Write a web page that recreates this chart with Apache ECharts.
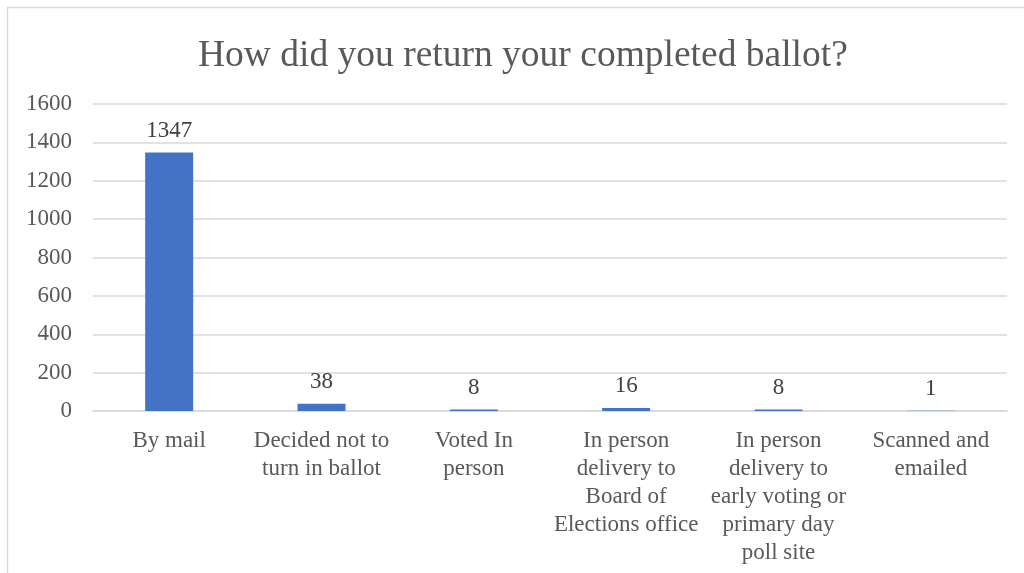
<!DOCTYPE html>
<html>
<head>
<meta charset="utf-8">
<script src="https://cdn.jsdelivr.net/npm/echarts@6/dist/echarts.min.js"></script>
<style>html,body{margin:0;padding:0;background:#fff;}#c{width:1024px;height:573px;}</style>
</head>
<body>
<div id="c"></div>
<script>
const titleText = 'How did you return your completed ballot?';
const categories = [
  'By mail',
  'Decided not to\nturn in ballot',
  'Voted In\nperson',
  'In person\ndelivery to\nBoard of\nElections office',
  'In person\ndelivery to\nearly voting or\nprimary day\npoll site',
  'Scanned and\nemailed'
];
const values = [1347, 38, 8, 16, 8, 1];
const yTicks = [0, 200, 400, 600, 800, 1000, 1200, 1400, 1600];

const font = '"Liberation Serif", "Times New Roman", serif';
const textColor = '#595959';
const chart = echarts.init(document.getElementById('c'));
chart.setOption({
  animation: false,
  backgroundColor: '#fff',
  title: {
    text: titleText,
    left: 193,
    top: 32,
    textStyle: { fontFamily: font, fontSize: 37.5, fontWeight: 'normal', color: textColor }
  },
  graphic: [{
    type: 'rect',
    shape: { x: 7.5, y: 7.5, width: 1100, height: 700 },
    style: { fill: 'none', stroke: '#D9D9D9', lineWidth: 1.5 },
    silent: true
  }],
  grid: { left: 93, right: 17, top: 104, bottom: 162 },
  xAxis: {
    type: 'category',
    data: categories,
    axisTick: { show: false },
    axisLine: { lineStyle: { color: '#D9D9D9', width: 1.5 } },
    axisLabel: {
      interval: 0,
      margin: 16,
      fontFamily: font,
      fontSize: 23,
      lineHeight: 28,
      color: textColor,
      align: 'center'
    }
  },
  yAxis: {
    type: 'value',
    min: yTicks[0],
    max: yTicks[yTicks.length - 1],
    interval: 200,
    axisLine: { show: false },
    axisTick: { show: false },
    splitLine: { lineStyle: { color: '#D9D9D9', width: 1.5 } },
    axisLabel: {
      fontFamily: font, fontSize: 23, color: textColor, margin: 21,
      formatter: function (v) { return String(v); }
    }
  },
  series: [{
    type: 'bar',
    data: values,
    barWidth: '31.5%',
    itemStyle: { color: '#4472C4' },
    label: {
      show: true,
      position: 'top',
      distance: 10,
      fontFamily: font,
      fontSize: 23,
      color: '#404040'
    }
  }]
});
</script>
</body>
</html>
